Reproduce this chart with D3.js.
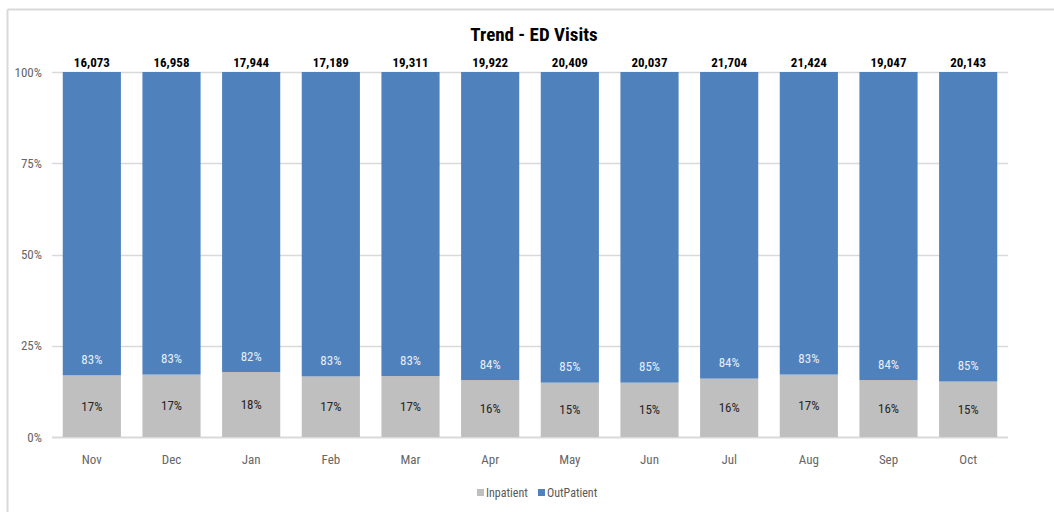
<!DOCTYPE html>
<html>
<head>
<meta charset="utf-8">
<script src="https://cdn.jsdelivr.net/npm/d3@7"></script>
<style>
  body { margin: 0; background: #fff; }
  text { font-family: "Liberation Sans Narrow", "Roboto Condensed", "Liberation Sans", sans-serif; }
</style>
</head>
<body>
<div id="chart"></div>
<script>
// data
let months = ['Nov', 'Dec', 'Jan', 'Feb', 'Mar', 'Apr', 'May', 'Jun', 'Jul', 'Aug', 'Sep', 'Oct'];
let totals = [16073, 16958, 17944, 17189, 19311, 19922, 20409, 20037, 21704, 21424, 19047, 20143];
// share of inpatient visits (%)
let inpatient = [16.9, 17.1, 17.8, 16.6, 16.7, 15.6, 14.9, 14.9, 16.0, 17.1, 15.6, 15.2];
let outpatient = inpatient.map(function(d) { return 100 - d; });
let yTicks = [0, 25, 50, 75, 100];
let seriesNames = ['Inpatient', 'OutPatient'];
let colors = ['#BFBFBF', '#4F81BD'];

let W = 1054, H = 512;
let margin = {top: 72, right: 46, bottom: 75, left: 52},
    width = W - margin.left - margin.right,
    height = H - margin.top - margin.bottom;

let root = d3.select("#chart").append("svg")
    .attr("width", W)
    .attr("height", H);

// frame lines
root.append("line").attr("x1", 7.5).attr("x2", W).attr("y1", 9.5).attr("y2", 9.5)
  .attr("stroke", "#D9D9D9").attr("stroke-width", 2);
root.append("line").attr("x1", 7.5).attr("x2", 7.5).attr("y1", 9.5).attr("y2", H)
  .attr("stroke", "#D9D9D9").attr("stroke-width", 2);

// title
root.append("text")
  .attr("x", 534).attr("y", 41)
  .attr("text-anchor", "middle")
  .style("font-size", "19px").style("font-weight", "bold")
  .attr("fill", "#000")
  .text("Trend - ED Visits");

let svg = root.append("g")
  .attr("transform", "translate(" + margin.left + "," + margin.top + ")");

let x = d3.scaleBand()
  .domain(months)
  .range([0, width])
  .paddingInner(0.27)
  .paddingOuter(0.135);

let y = d3.scaleLinear()
  .domain([0, 100])
  .range([height, 0]);

// gridlines
svg.append("g")
  .selectAll("line")
  .data(yTicks)
  .enter().append("line")
    .attr("x1", 0).attr("x2", width)
    .attr("y1", function(d) { return Math.round(y(d)) + 0.5; })
    .attr("y2", function(d) { return Math.round(y(d)) + 0.5; })
    .attr("stroke", "#D9D9D9")
    .attr("stroke-width", function(d) { return d === 0 ? 2 : 1.5; });

// y axis labels
let yAxis = svg.append("g")
  .call(d3.axisLeft(y).tickValues(yTicks).tickSize(0).tickPadding(10)
    .tickFormat(function(d) { return d + "%"; }));
yAxis.select(".domain").remove();
yAxis.selectAll("text").style("font-size", "13px").attr("fill", "#666");

// x axis labels
let xAxis = svg.append("g")
  .attr("transform", "translate(0," + height + ")")
  .call(d3.axisBottom(x).tickSize(0).tickPadding(18));
xAxis.select(".domain").remove();
xAxis.selectAll("text").style("font-size", "13px").attr("fill", "#666");

// stacked bars
let table = months.map(function(m, i) {
  return {month: m, Inpatient: inpatient[i], OutPatient: outpatient[i], total: totals[i]};
});
let stack = d3.stack().keys(seriesNames)(table);

svg.append("g")
  .selectAll("g")
  .data(stack)
  .enter().append("g")
    .attr("fill", function(d, i) { return colors[i]; })
  .selectAll("rect")
  .data(function(d) { return d; })
  .enter().append("rect")
    .attr("x", function(d) { return x(d.data.month); })
    .attr("y", function(d) { return y(d[1]); })
    .attr("width", x.bandwidth())
    .attr("height", function(d) { return y(d[0]) - y(d[1]); });

// inpatient labels (centre of grey segment)
svg.append("g")
  .selectAll("text")
  .data(table)
  .enter().append("text")
    .attr("x", function(d) { return x(d.month) + x.bandwidth() / 2; })
    .attr("y", function(d) { return y(d.Inpatient / 2); })
    .attr("dy", "0.35em")
    .attr("text-anchor", "middle")
    .style("font-size", "13px")
    .attr("fill", "#262626")
    .text(function(d) { return Math.round(d.Inpatient) + "%"; });

// outpatient labels (inside base of blue segment)
svg.append("g")
  .selectAll("text")
  .data(table)
  .enter().append("text")
    .attr("x", function(d) { return x(d.month) + x.bandwidth() / 2; })
    .attr("y", function(d) { return y(d.Inpatient) - 16; })
    .attr("dy", "0.35em")
    .attr("text-anchor", "middle")
    .style("font-size", "13px")
    .attr("fill", "#E8EEF7")
    .text(function(d) { return Math.round(d.OutPatient) + "%"; });

// totals above bars
svg.append("g")
  .selectAll("text")
  .data(table)
  .enter().append("text")
    .attr("x", function(d) { return x(d.month) + x.bandwidth() / 2; })
    .attr("y", y(100) - 5)
    .attr("text-anchor", "middle")
    .style("font-size", "13px").style("font-weight", "bold")
    .attr("fill", "#000")
    .text(function(d) { return d3.format(",")(d.total); });

// legend
let legend = root.append("g").attr("transform", "translate(477,493)");
let lx = [0, 61];
seriesNames.forEach(function(name, i) {
  let g = legend.append("g").attr("transform", "translate(" + lx[i] + ",0)");
  g.append("rect").attr("x", 0).attr("y", -4).attr("width", 7).attr("height", 7).attr("fill", colors[i]);
  g.append("text").attr("x", 9).attr("y", 0).attr("dy", "0.35em")
    .style("font-size", "12px").attr("fill", "#595959").text(name);
});
</script>
</body>
</html>
